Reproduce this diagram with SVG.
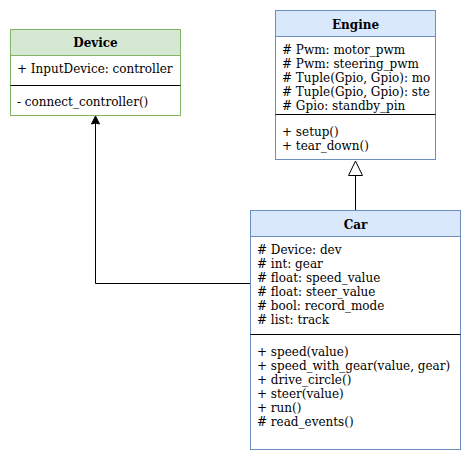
<svg xmlns="http://www.w3.org/2000/svg" width="472" height="454" viewBox="0 0 472 454">
<style>
.t{font-family:"DejaVu Serif",serif;font-size:12px;fill:#000}
.h{font-family:"DejaVu Serif",serif;font-size:12px;font-weight:bold;fill:#000;text-anchor:middle}
.g{fill:#d5e8d4;stroke:#82b366}
.b{fill:#dae8fc;stroke:#6c8ebf}
.w{fill:#fff}
.sep{stroke:#000;fill:none}
.c{stroke:#000;fill:none}
</style>
<rect width="472" height="454" fill="#fff"/>
<g id="connectors">
<path class="c" d="M250.5 283.5H95.5V123"/>
<path d="M95.5 116L91.5 124L95.5 123L99.5 124Z" fill="#000" stroke="#000"/>
<path class="c" d="M355.5 210V176"/>
<path d="M355.5 161L348.5 175.5H362.5Z" fill="#fff" stroke="#000"/>
</g>
<g id="device">
<rect class="w" x="10.5" y="29.5" width="170" height="86"/>
<rect class="g" x="10.5" y="29.5" width="170" height="26"/>
<rect x="10.5" y="29.5" width="170" height="86" fill="none" stroke="#82b366"/>
<text class="h" x="95.5" y="47">Device</text>
<text class="t" x="17" y="73">+ InputDevice: controller</text>
<line class="sep" x1="10.5" y1="85.5" x2="180.5" y2="85.5"/>
<text class="t" x="17" y="106">- connect_controller()</text>
</g>
<g id="engine">
<rect class="w" x="275.5" y="10.5" width="160" height="149"/>
<rect class="b" x="275.5" y="10.5" width="160" height="26"/>
<rect x="275.5" y="10.5" width="160" height="149" fill="none" stroke="#6c8ebf"/>
<text class="h" x="355.5" y="29">Engine</text>
<text class="t">
<tspan x="282" y="54"># Pwm: motor_pwm</tspan>
<tspan x="282" y="68"># Pwm: steering_pwm</tspan>
<tspan x="282" y="82"># Tuple(Gpio, Gpio): mo</tspan>
<tspan x="282" y="96"># Tuple(Gpio, Gpio): ste</tspan>
<tspan x="282" y="110"># Gpio: standby_pin</tspan>
</text>
<line class="sep" x1="275.5" y1="114.5" x2="435.5" y2="114.5"/>
<text class="t">
<tspan x="282" y="136">+ setup()</tspan>
<tspan x="282" y="150">+ tear_down()</tspan>
</text>
</g>
<g id="car">
<rect class="w" x="250.5" y="210.5" width="210" height="239"/>
<rect class="b" x="250.5" y="210.5" width="210" height="26"/>
<rect x="250.5" y="210.5" width="210" height="239" fill="none" stroke="#6c8ebf"/>
<text class="h" x="355.5" y="229">Car</text>
<text class="t">
<tspan x="257" y="254"># Device: dev</tspan>
<tspan x="257" y="268"># int: gear</tspan>
<tspan x="257" y="282"># float: speed_value</tspan>
<tspan x="257" y="296"># float: steer_value</tspan>
<tspan x="257" y="310"># bool: record_mode</tspan>
<tspan x="257" y="324"># list: track</tspan>
</text>
<line class="sep" x1="250.5" y1="334.5" x2="460.5" y2="334.5"/>
<text class="t">
<tspan x="257" y="356">+ speed(value)</tspan>
<tspan x="257" y="370">+ speed_with_gear(value, gear)</tspan>
<tspan x="257" y="384">+ drive_circle()</tspan>
<tspan x="257" y="398">+ steer(value)</tspan>
<tspan x="257" y="412">+ run()</tspan>
<tspan x="257" y="426"># read_events()</tspan>
</text>
</g>
</svg>
